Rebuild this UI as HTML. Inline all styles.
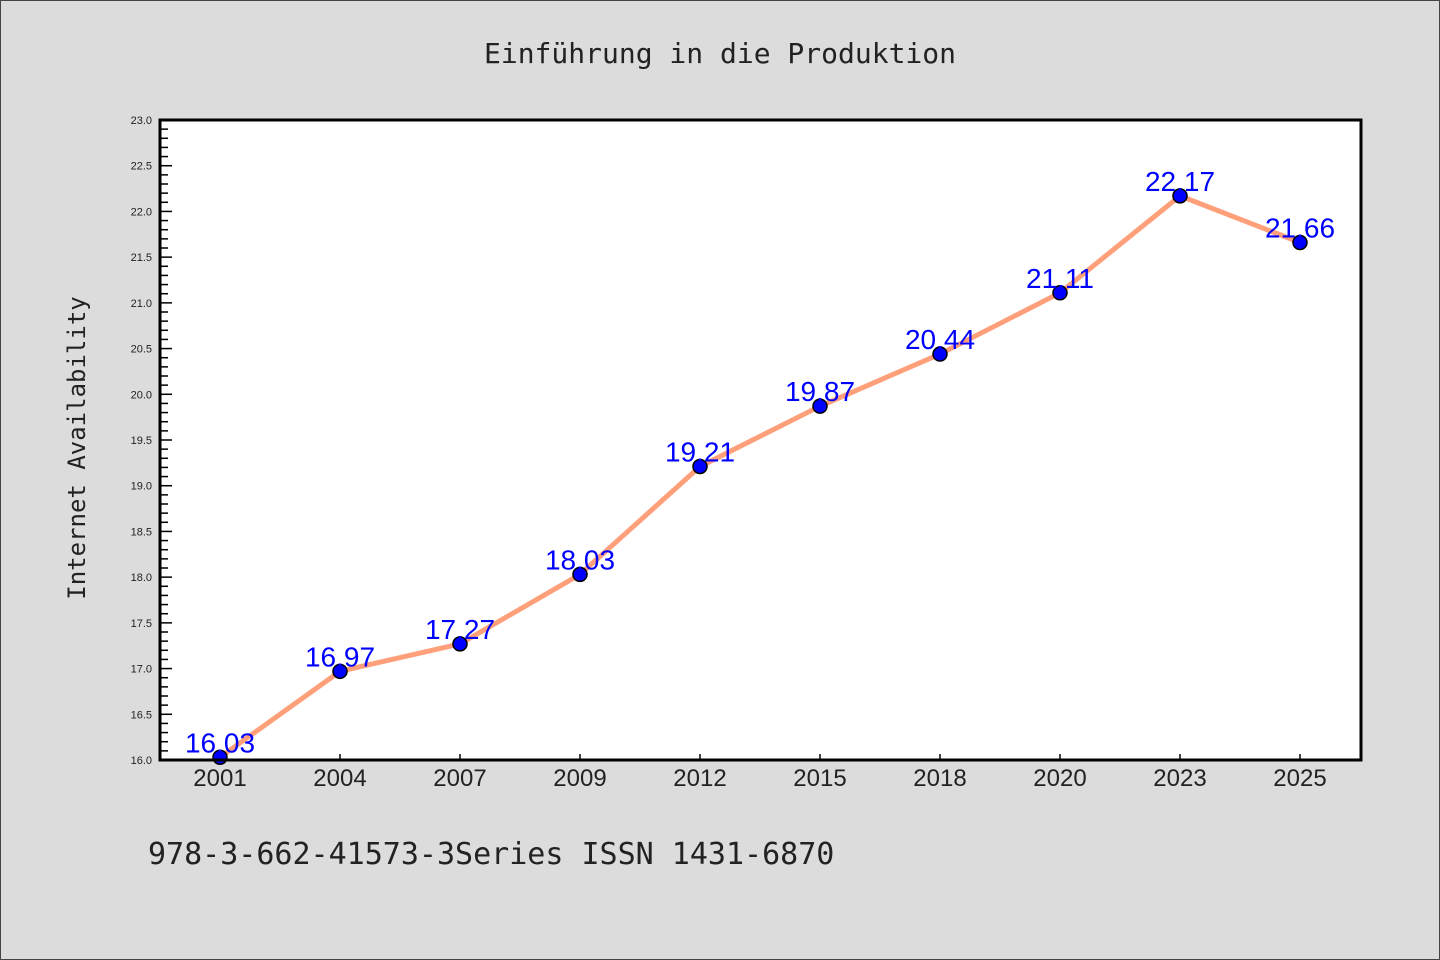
<!DOCTYPE html>
<html><head><meta charset="utf-8"><style>
body{margin:0;background:#dcdcdc;}
svg{display:block;font-family:"Liberation Sans","DejaVu Sans",sans-serif;}
</style></head><body>
<svg id="c" width="1440" height="960">
<rect x="0.5" y="0.5" width="1439" height="959" fill="#dcdcdc" stroke="#444"/>
<text x="720" y="63" text-anchor="middle" font-size="28" font-family="DejaVu Sans Mono, monospace" fill="#222">Einführung in die Produktion</text>
<rect x="160" y="120" width="1201" height="640" fill="#fff"/>
<g id="yt"></g><g id="xt"></g>
<text transform="translate(85,448) rotate(-90)" text-anchor="middle" font-size="24" font-family="DejaVu Sans Mono, monospace" fill="#222">Internet Availability</text>
<path id="line" fill="none" stroke="#ffa07a" stroke-width="5" stroke-linejoin="round"/>
<g id="pts"></g>
<rect x="160" y="120" width="1201" height="640" fill="none" stroke="#000" stroke-width="3"/>
<text x="148" y="864" font-size="30" font-family="DejaVu Sans Mono, monospace" fill="#222">978-3-662-41573-3Series ISSN 1431-6870</text>
</svg>
<script>
const categories=["2001","2004","2007","2009","2012","2015","2018","2020","2023","2025"];
const values=[16.03,16.97,17.27,18.03,19.21,19.87,20.44,21.11,22.17,21.66];
const yTicks=[16.0,16.5,17.0,17.5,18.0,18.5,19.0,19.5,20.0,20.5,21.0,21.5,22.0,22.5,23.0];
const yMin=16,yMax=23;
const NS="http://www.w3.org/2000/svg";
const X=i=>220+i*120;
const Y=v=>760-(v-yMin)/(yMax-yMin)*640;
function mk(t,a,p){const e=document.createElementNS(NS,t);for(const k in a)e.setAttribute(k,a[k]);p.appendChild(e);return e;}
const yt=document.getElementById('yt');
for(let k=0;k<=Math.round((yMax-yMin)*10);k++){
  const v=yMin+k/10;const y=Y(v);const major=k%5===0;
  const l=mk('line',{x1:160,x2:major?172:168,y1:y,y2:y,stroke:'#000','stroke-width':1.5},yt);
  
  
}
yTicks.forEach(v=>{
  const t=mk('text',{x:152,y:Y(v)+4,'text-anchor':'end','font-size':11,fill:'#222'},yt);
  t.textContent=v.toFixed(1);
  
  
});
const xt=document.getElementById('xt');
categories.forEach((c,i)=>{
  const l=mk('line',{x1:X(i),x2:X(i),y1:760,y2:754,stroke:'#000','stroke-width':1.5},xt);
  
  
  const t=mk('text',{x:X(i),y:786,'text-anchor':'middle','font-size':24,fill:'#222'},xt);
  t.textContent=c;
  
  
});
document.getElementById('line').setAttribute('d',values.map((v,i)=>(i?'L':'M')+X(i)+','+Y(v)).join(''));
const pts=document.getElementById('pts');
values.forEach((v,i)=>{
  const c=mk('circle',{cx:X(i),cy:Y(v),r:7,fill:'#0000ff',stroke:'#000','stroke-width':1.5},pts);
  
  
  const t=mk('text',{x:X(i),y:Y(v)-5,'text-anchor':'middle','font-size':28,fill:'#0000ff'},pts);
  t.textContent=v.toFixed(2);
  
  
});
</script>
</body></html>
